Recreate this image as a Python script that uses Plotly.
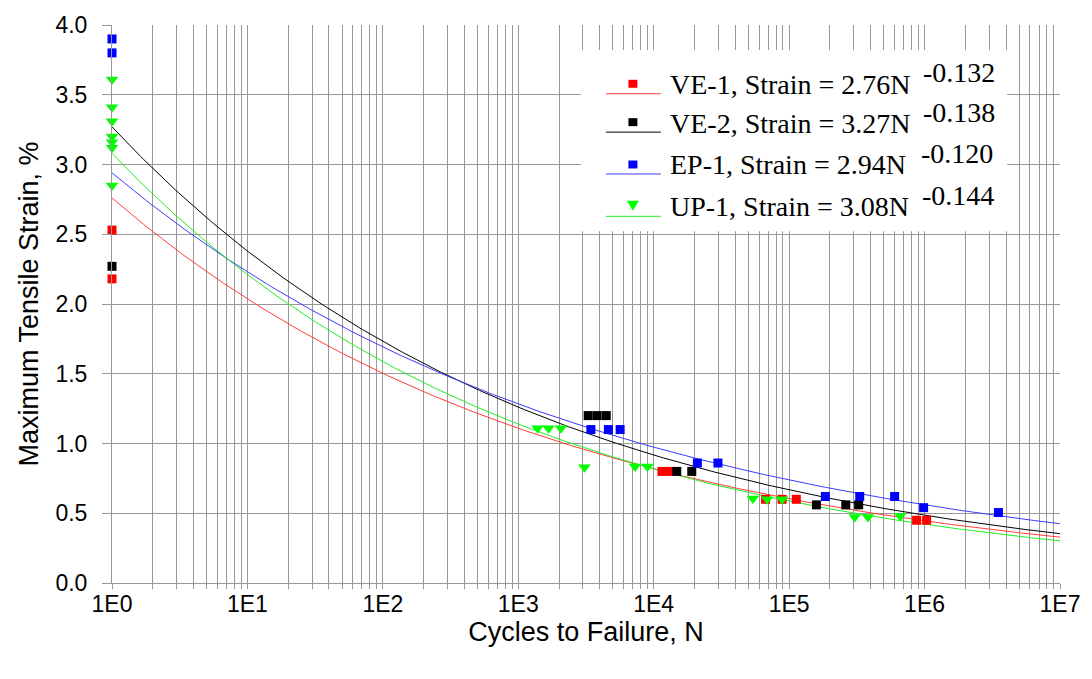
import numpy as np
import plotly.graph_objects as go

# ---------------- data ----------------
ve1_n = [1, 1, 11500, 13200, 67000, 88700, 113000, 873000, 1035000]
ve1_s = [2.53, 2.18, 0.80, 0.80, 0.60, 0.60, 0.60, 0.45, 0.45]

ve2_n = [1, 3280, 3820, 4460, 14800, 19100, 159000, 262000, 326000]
ve2_s = [2.27, 1.20, 1.20, 1.20, 0.80, 0.80, 0.56, 0.56, 0.56]

ep1_n = [1, 1, 3435, 4630, 5650, 21000, 29800, 185000, 332000, 601000, 984000, 3510000]
ep1_s = [3.90, 3.80, 1.10, 1.10, 1.10, 0.86, 0.86, 0.62, 0.62, 0.62, 0.54, 0.505]

up1_n = [1, 1, 1, 1, 1, 1, 1, 1387, 1672, 2064, 3080, 7280, 8980,
         54000, 68800, 88700, 305000, 382000, 661000]
up1_s = [3.61, 3.41, 3.31, 3.20, 3.16, 3.12, 2.85, 1.11, 1.11, 1.11, 0.83, 0.835, 0.835,
         0.605, 0.60, 0.60, 0.474, 0.474, 0.48]

series_names = ["VE-1", "VE-2", "EP-1", "UP-1"]
fit_coef = [2.76, 3.27, 2.94, 3.08]
fit_exp = [-0.132, -0.138, -0.120, -0.144]
fit_exp_text = ["-0.132", "-0.138", "-0.120", "-0.144"]

x_tick_vals = [1, 10, 100, 1000, 10000, 100000, 1000000, 10000000]
x_tick_text = ["1E0", "1E1", "1E2", "1E3", "1E4", "1E5", "1E6", "1E7"]

# ---------------- styles ----------------
marker_colors = ["#ff0000", "#000000", "#0000ff", "#00ff00"]
line_colors = ["#ff3c3c", "#000000", "#3c3cff", "#22ee22"]
marker_symbols = ["square", "square", "square", "triangle-down"]
marker_sizes = [9, 9, 9, 11]
GRID = "#999999"

W, H = 1092, 679
L, R, T, B = 112, 30, 23, 96
PW, PH = W - L - R, H - T - B


def px(x):
    return (x - L) / PW


def py(y):
    return (H - B - y) / PH


fig = go.Figure()

data_n = [ve1_n, ve2_n, ep1_n, up1_n]
data_s = [ve1_s, ve2_s, ep1_s, up1_s]

# fitted power-law curves from the equations shown in the legend
n_curve = np.logspace(0, 7, 300)
for i in range(4):
    fig.add_trace(go.Scatter(
        x=n_curve, y=fit_coef[i] * n_curve ** fit_exp[i], mode="lines",
        line=dict(color=line_colors[i], width=1), showlegend=False,
        hoverinfo="skip"))

for i in range(4):
    fig.add_trace(go.Scatter(
        x=data_n[i], y=data_s[i], mode="markers", name=series_names[i],
        marker=dict(symbol=marker_symbols[i], size=marker_sizes[i],
                    color=marker_colors[i], line=dict(width=0)),
        showlegend=False, cliponaxis=False))

# ---------------- manual legend ----------------
shapes = []
annotations = []
shapes.append(dict(type="rect", xref="paper", yref="paper",
                   x0=px(582), x1=px(1009), y0=py(230), y1=py(48),
                   fillcolor="white", line=dict(width=0), layer="above"))

row_line_y = [92, 130.5, 172.5, 215]
row_marker_y = [82, 120.5, 163, 204.5]
row_base_y = [91.5, 131, 172.5, 214.5]
exp_x = [923, 923, 921, 922]
serif = "Liberation Serif, Times New Roman, serif"
for i in range(4):
    shapes.append(dict(type="line", xref="paper", yref="paper",
                       x0=px(607), x1=px(662), y0=py(row_line_y[i]), y1=py(row_line_y[i]),
                       line=dict(color=line_colors[i], width=1), layer="above"))
    cx, cy = 634, row_marker_y[i]
    if marker_symbols[i] == "square":
        shapes.append(dict(type="rect", xref="paper", yref="paper",
                           x0=px(cx - 4.5), x1=px(cx + 4.5), y0=py(cy + 4), y1=py(cy - 4),
                           fillcolor=marker_colors[i], line=dict(width=0), layer="above"))
    else:
        path = "M {:.5f},{:.5f} L {:.5f},{:.5f} L {:.5f},{:.5f} Z".format(
            px(cx - 6), py(cy - 5), px(cx + 6), py(cy - 5), px(cx), py(cy + 5))
        shapes.append(dict(type="path", xref="paper", yref="paper", path=path,
                           fillcolor=marker_colors[i], line=dict(width=0), layer="above"))
    main_text = "{}, Strain = {:.2f}N".format(series_names[i], fit_coef[i])
    annotations.append(dict(
        xref="paper", yref="paper", x=px(669), y=py(row_base_y[i] - 9),
        xanchor="left", yanchor="middle", text=main_text, showarrow=False,
        font=dict(family=serif, size=28, color="black")))
    annotations.append(dict(
        xref="paper", yref="paper", x=px(exp_x[i]), y=py(row_base_y[i] - 20.5),
        xanchor="left", yanchor="middle", text=fit_exp_text[i], showarrow=False,
        font=dict(family=serif, size=28, color="black")))

tick_font = dict(family="Liberation Sans, Arial, sans-serif", size=23, color="black")
title_font = dict(family="Liberation Sans, Arial, sans-serif", size=27, color="black")

fig.update_layout(
    width=W, height=H,
    margin=dict(l=L, r=R, t=T, b=B, pad=0),
    paper_bgcolor="white", plot_bgcolor="white",
    shapes=shapes, annotations=annotations,
    xaxis=dict(
        type="log", range=[0, 7],
        tickmode="array", tickvals=x_tick_vals, ticktext=x_tick_text,
        showgrid=True, gridcolor=GRID, gridwidth=1,
        minor=dict(dtick="D1", showgrid=True, gridcolor=GRID, gridwidth=1,
                   ticks="outside", ticklen=5, tickcolor=GRID),
        ticks="outside", ticklen=5, tickcolor=GRID,
        ticklabelstandoff=-5,
        showline=True, linecolor=GRID, linewidth=1,
        tickfont=tick_font,
        title=dict(text="Cycles to Failure, N", font=title_font, standoff=3),
        zeroline=False,
    ),
    yaxis=dict(
        range=[0, 4], dtick=0.5, tick0=0, tickformat=".1f",
        showgrid=True, gridcolor=GRID, gridwidth=1,
        ticks="outside", ticklen=9, tickcolor=GRID,
        ticklabelstandoff=10,
        showline=True, linecolor=GRID, linewidth=1,
        tickfont=tick_font,
        title=dict(text="Maximum Tensile Strain, %", font=title_font, standoff=8),
        zeroline=False,
    ),
    showlegend=False,
)

fig.write_html("out.html")
